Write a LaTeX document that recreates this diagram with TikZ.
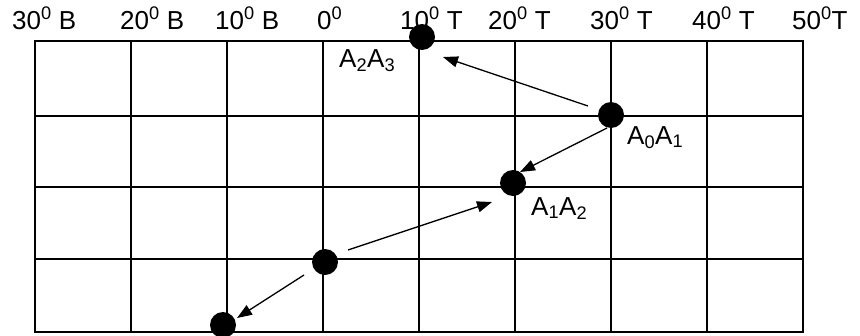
\documentclass[tikz,border=0pt]{standalone}
\usepackage{fontspec}
\setmainfont{Liberation Sans}
\usepackage{xcolor}
\usepackage{tikz}
\usetikzlibrary{
	arrows.meta,
	positioning
}

\begin{document}
\begin{tikzpicture}[x=1pt, y=-1pt,
	dot/.style={circle, fill=black, inner sep=0pt, minimum size=26pt},
	lab/.style={font=\fontsize{26}{30}\selectfont, inner sep=0pt, anchor=base west},
	arr/.style={-{Triangle[length=15pt,width=11pt]}, line width=1.3pt},
	gridline/.style={line width=2pt}]
		\useasboundingbox (0,0) rectangle (860,335);
		
		% 网格 8 x 4
		\foreach \i in {1,...,7}
			\draw[gridline] ({35+95.95*\i},41) -- ({35+95.95*\i},331.5);
		\foreach \y in {115.5,187,259}
			\draw[gridline] (35,\y) -- (802.6,\y);
		\draw[gridline] (35,41) rectangle (802.6,331.5);
		
		% 经度
		\node[lab] (l30B) at (12,29) {30\textsuperscript{0} B};
		\node[lab] (l20B) at (120,29) {20\textsuperscript{0} B};
		\node[lab] (l10B) at (215,29) {10\textsuperscript{0} B};
		\node[lab] (l0) at (317,29) {0\textsuperscript{0}};
		\node[lab] (l10T) at (400,29) {10\textsuperscript{0} T};
		\node[lab] (l20T) at (488,29) {20\textsuperscript{0} T};
		\node[lab] (l30T) at (590,29) {30\textsuperscript{0} T};
		\node[lab] (l40T) at (692,29) {40\textsuperscript{0} T};
		\node[lab] (l50T) at (792,29) {50\textsuperscript{0}T};
		
		% 点
		\node[dot] (A23) at (422,37) {};
		\node[dot] (A01) at (611,115) {};
		\node[dot] (A12) at (513,183) {};
		\node[dot] (P0) at (325,262) {};
		\node[dot] (P1) at (223,325) {};
		
		\node[lab] (tA23) at (339,67) {A\textsubscript{2}A\textsubscript{3}};
		\node[lab] (tA01) at (627,144) {A\textsubscript{0}A\textsubscript{1}};
		\node[lab] (tA12) at (531,215) {A\textsubscript{1}A\textsubscript{2}};
		
		% 箭头
		\draw[arr] ([shift={(-23pt,9pt)}]A01.center) -- ([shift={(21pt,-20pt)}]A23.center);
		\draw[arr] ([shift={(-4pt,-13pt)}]A01.center) -- ([shift={(7pt,11pt)}]A12.center);
		\draw[arr] ([shift={(23pt,12pt)}]P0.center) -- ([shift={(-21pt,-19pt)}]A12.center);
		\draw[arr] ([shift={(-21pt,-13pt)}]P0.center) -- ([shift={(14pt,7pt)}]P1.center);
		
	\end{tikzpicture}
\end{document}
